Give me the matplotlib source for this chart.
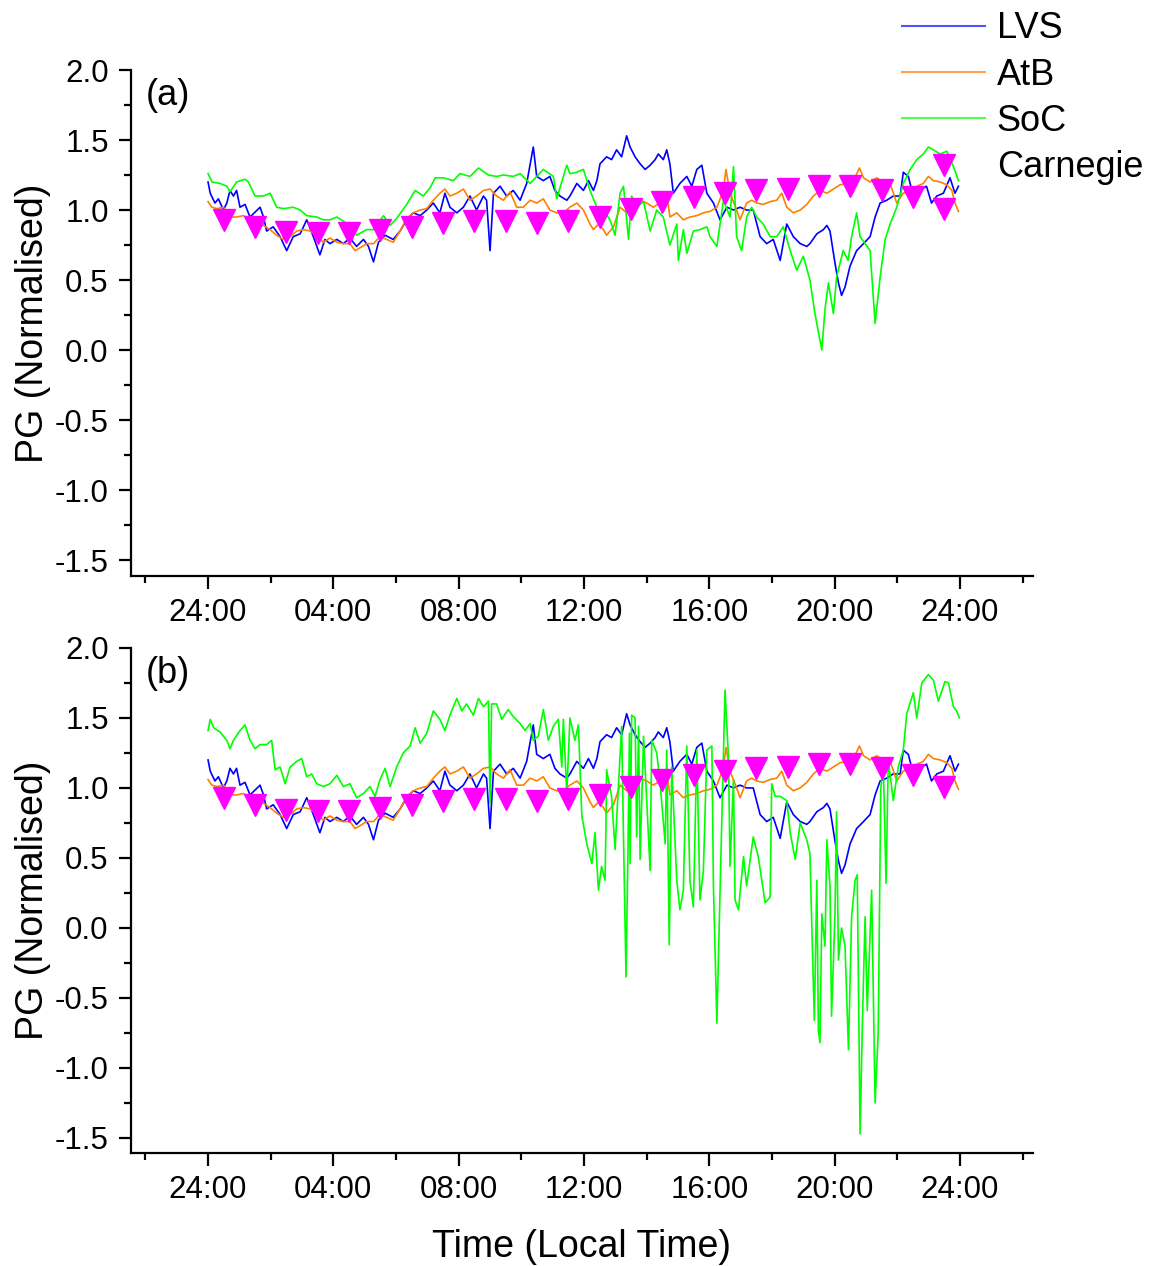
import matplotlib
matplotlib.use('Agg')
import matplotlib.pyplot as plt
from matplotlib.ticker import MultipleLocator, FixedLocator
from matplotlib.lines import Line2D

plt.rcParams['font.family'] = ['Liberation Sans', 'DejaVu Sans']

# ---------------- data (hours after local midnight, normalised PG) ----------------
lvs_t = [0.0, 0.07, 0.22, 0.33, 0.49, 0.60, 0.70, 0.81, 0.91, 1.02,
         1.18, 1.34, 1.66, 1.77, 1.87, 2.08, 2.30, 2.51, 2.72, 2.94,
         3.15, 3.36, 3.57, 3.73, 3.89, 4.11, 4.32, 4.53, 4.74, 4.96,
         5.12, 5.28, 5.44, 5.65, 5.91, 6.13, 6.34, 6.55, 6.77, 6.98,
         7.19, 7.40, 7.56, 7.72, 7.94, 8.15, 8.36, 8.57, 8.79, 8.89,
         9.00, 9.11, 9.32, 9.53, 9.74, 9.96, 10.17, 10.38, 10.49, 10.70,
         10.91, 11.07, 11.23, 11.45,
         11.55, 11.77, 11.98, 12.14, 12.30, 12.41, 12.51, 12.72, 12.88, 13.04,
         13.20, 13.36, 13.47, 13.63, 13.79, 13.95, 14.11, 14.27, 14.37, 14.53,
         14.64, 14.74, 14.85, 15.06, 15.28, 15.44, 15.60, 15.76, 15.92, 16.13,
         16.34, 16.56, 16.77, 16.98, 17.19, 17.40, 17.62, 17.83, 18.04, 18.26,
         18.47, 18.68, 18.90, 19.11, 19.21, 19.43, 19.64, 19.75, 19.85, 20.01,
         20.12, 20.22, 20.33, 20.49, 20.70, 20.92, 21.13, 21.29, 21.45, 21.66,
         21.87, 22.09, 22.19, 22.35, 22.51, 22.72, 22.93, 23.09, 23.26, 23.47,
         23.68, 23.84, 23.95]
lvs_v = [1.20, 1.12, 1.05, 1.08, 1.00, 1.05, 1.14, 1.10, 1.14, 1.02,
         1.04, 0.95, 1.02, 0.95, 0.85, 0.88, 0.81, 0.71, 0.81, 0.83,
         0.93, 0.81, 0.68, 0.79, 0.76, 0.79, 0.76, 0.80, 0.74, 0.79,
         0.74, 0.63, 0.77, 0.82, 0.79, 0.85, 0.93, 0.98, 0.96, 1.00,
         1.05, 0.98, 1.12, 1.02, 0.98, 1.02, 1.10, 1.00, 1.10, 1.07,
         0.71, 1.12, 1.17, 1.10, 1.14, 1.07, 1.19, 1.45, 1.24, 1.21,
         1.24, 1.14, 1.10, 1.07,
         1.10, 1.19, 1.14, 1.21, 1.14, 1.21, 1.33, 1.38, 1.36, 1.43,
         1.38, 1.53, 1.45, 1.38, 1.33, 1.29, 1.32, 1.36, 1.40, 1.36,
         1.43, 1.33, 1.12, 1.19, 1.24, 1.17, 1.29, 1.32, 1.12, 1.05,
         0.93, 1.02, 1.00, 1.02, 1.00, 1.00, 0.81, 0.76, 0.79, 0.64,
         0.90, 0.81, 0.76, 0.74, 0.76, 0.83, 0.86, 0.89, 0.85, 0.62,
         0.48, 0.39, 0.45, 0.60, 0.71, 0.76, 0.81, 0.95, 1.05, 1.07,
         1.10, 1.10, 1.27, 1.24, 1.10, 1.14, 1.17, 1.05, 1.10, 1.12,
         1.23, 1.12, 1.17]

atb_t = [0.0, 0.12, 0.28, 0.49, 0.70, 0.91, 1.13, 1.34, 1.55, 1.77,
         1.98, 2.19, 2.40, 2.62, 2.83, 3.04, 3.26, 3.47, 3.68, 3.89,
         4.11, 4.32, 4.53, 4.69, 4.85, 5.06, 5.28, 5.49, 5.70, 5.91,
         6.13, 6.34, 6.55, 6.77, 6.98, 7.19, 7.40, 7.56, 7.72, 7.94,
         8.15, 8.36, 8.57, 8.79, 9.00, 9.21, 9.43, 9.64, 9.85, 10.06,
         10.28, 10.49, 10.70, 10.91, 11.13, 11.34,
         11.55, 11.77, 11.98, 12.19, 12.30, 12.46, 12.62, 12.72, 12.94, 13.15,
         13.36, 13.58, 13.79, 14.00, 14.21, 14.43, 14.64, 14.74, 14.96, 15.17,
         15.38, 15.60, 15.81, 16.02, 16.24, 16.45, 16.53, 16.66, 16.87, 16.98,
         17.19, 17.35, 17.51, 17.72, 17.94, 18.15, 18.31, 18.47, 18.68, 18.90,
         19.11, 19.32, 19.53, 19.75, 19.96, 20.17, 20.38, 20.60, 20.79, 20.92,
         21.13, 21.34, 21.55, 21.77, 21.98, 22.19, 22.41, 22.62, 22.83, 22.99,
         23.15, 23.37, 23.58, 23.74, 23.84, 23.95]
atb_v = [1.06, 1.02, 1.01, 1.02, 0.95, 0.95, 0.96, 0.93, 0.93, 0.89,
         0.86, 0.82, 0.79, 0.81, 0.85, 0.86, 0.85, 0.81, 0.77, 0.80,
         0.77, 0.76, 0.76, 0.71, 0.73, 0.76, 0.76, 0.81, 0.79, 0.77,
         0.85, 0.94, 0.98, 1.00, 1.01, 1.07, 1.12, 1.15, 1.10, 1.12,
         1.15, 1.07, 1.10, 1.14, 1.15, 1.10, 1.07, 1.13, 1.02, 1.02,
         1.07, 1.05, 1.08, 1.00, 0.98, 0.98,
         1.02, 1.05, 1.00, 0.90, 0.86, 0.90, 0.86, 0.82, 0.88, 1.02,
         0.98, 1.05, 1.07, 1.05, 1.02, 1.05, 1.12, 0.95, 0.98, 0.93,
         0.95, 0.96, 0.98, 0.99, 1.02, 1.14, 1.29, 1.12, 1.00, 0.93,
         1.05, 1.07, 1.05, 1.04, 1.06, 1.07, 1.12, 1.02, 0.98, 1.00,
         1.04, 1.10, 1.14, 1.12, 1.15, 1.18, 1.19, 1.21, 1.30, 1.23,
         1.20, 1.23, 1.20, 1.19, 1.05, 1.12, 1.14, 1.17, 1.19, 1.24,
         1.21, 1.20, 1.18, 1.14, 1.05, 0.99]

soc_a_t = [0.0, 0.13, 0.38, 0.60, 0.70, 0.91, 1.18, 1.29, 1.50, 1.77,
           1.98, 2.19, 2.40, 2.72, 2.94, 3.15, 3.47, 3.68, 3.89, 4.11,
           4.32, 4.53, 4.74, 5.06, 5.28, 5.60, 5.81, 6.02, 6.34, 6.61,
           6.87, 7.09, 7.25, 7.51, 7.83, 8.04, 8.36, 8.63, 8.95, 9.21,
           9.43, 9.74, 9.96, 10.28, 10.70, 11.02, 11.13, 11.34, 11.45,
           11.55, 11.77, 11.98, 12.19, 12.41, 12.62, 12.83, 12.99, 13.15, 13.26,
           13.42, 13.52, 13.68, 13.90, 14.11, 14.32, 14.53, 14.74, 14.96, 15.01,
           15.17, 15.28, 15.49, 15.70, 15.92, 16.02, 16.24, 16.45, 16.66, 16.77,
           16.87, 17.03, 17.19, 17.35, 17.51, 17.72, 17.94, 18.15, 18.36, 18.58,
           18.79, 19.00, 19.21, 19.37, 19.53, 19.59, 19.69, 19.80, 19.96, 20.06,
           20.27, 20.43, 20.54, 20.70, 20.81, 20.97, 21.13, 21.29, 21.45, 21.61,
           21.77, 21.98, 22.19, 22.41, 22.62, 22.83, 22.99, 23.15, 23.37, 23.58,
           23.79, 23.95]
soc_a_v = [1.26, 1.20, 1.19, 1.17, 1.13, 1.20, 1.22, 1.20, 1.10, 1.10,
           1.12, 1.02, 1.01, 1.02, 1.00, 0.96, 0.95, 0.93, 0.93, 0.95,
           0.92, 0.89, 0.82, 0.86, 0.86, 0.96, 0.89, 0.94, 1.04, 1.14,
           1.10, 1.16, 1.23, 1.23, 1.21, 1.26, 1.24, 1.30, 1.25, 1.24,
           1.25, 1.24, 1.26, 1.19, 1.29, 1.24, 1.08, 1.24, 1.32,
           1.26, 1.27, 1.29, 1.14, 1.02, 1.00, 0.93, 0.82, 1.12, 1.17,
           0.79, 1.10, 1.02, 1.06, 0.85, 1.00, 0.95, 0.75, 0.90, 0.64,
           0.86, 0.69, 0.85, 0.86, 0.88, 0.81, 0.74, 1.07, 0.95, 1.31,
           0.81, 0.71, 0.95, 1.02, 0.95, 0.90, 0.81, 0.81, 0.88, 0.71,
           0.57, 0.67, 0.50, 0.26, 0.07, 0.00, 0.29, 0.48, 0.26, 0.52,
           0.71, 0.64, 0.81, 0.98, 0.81, 0.76, 0.71, 0.19, 0.52, 0.79,
           0.90, 1.02, 1.19, 1.29, 1.36, 1.40, 1.45, 1.43, 1.40, 1.42,
           1.31, 1.21]

soc_b_t = [0.0, 0.07, 0.18, 0.38, 0.60, 0.70, 0.81, 1.02, 1.18, 1.34,
           1.50, 1.66, 1.87, 2.03, 2.14, 2.30, 2.46, 2.62, 2.83, 2.99,
           3.15, 3.31, 3.47, 3.68, 3.89, 4.11, 4.32, 4.53, 4.74, 4.96,
           5.17, 5.33, 5.49, 5.65, 5.81, 6.02, 6.23, 6.45, 6.61, 6.77,
           6.98, 7.19, 7.40, 7.56, 7.72, 7.94, 8.10, 8.25, 8.47, 8.63,
           8.79, 8.95, 9.00, 9.05, 9.21, 9.37, 9.58, 9.74, 9.96, 10.12,
           10.28, 10.38, 10.54, 10.70, 10.86, 11.02, 11.18, 11.29, 11.34, 11.45,
           11.55, 11.71, 11.82, 11.93, 12.09, 12.25, 12.35, 12.46, 12.56, 12.67,
           12.70, 12.72, 12.88, 12.99, 13.20, 13.26, 13.34, 13.40, 13.45, 13.47,
           13.52, 13.63, 13.68, 13.74, 13.79, 13.90, 14.11, 14.16, 14.32, 14.43,
           14.59, 14.64, 14.72, 14.80, 14.96, 15.06, 15.17, 15.28, 15.38, 15.49,
           15.60, 15.70, 15.81, 15.92, 16.08, 16.13, 16.24, 16.34, 16.50, 16.61,
           16.66, 16.77, 16.82, 16.93, 17.09, 17.19, 17.40, 17.56, 17.78, 17.94,
           17.99, 18.10, 18.26, 18.47, 18.58, 18.74, 18.90, 19.11, 19.21, 19.35,
           19.43, 19.48, 19.53, 19.59, 19.69, 19.75, 19.85, 19.90, 20.01, 20.06,
           20.12, 20.22, 20.33, 20.44, 20.54, 20.65, 20.72, 20.81, 20.89, 20.97,
           21.04, 21.18, 21.29, 21.39, 21.47, 21.55, 21.64, 21.71, 21.87, 22.03,
           22.19, 22.30, 22.51, 22.62, 22.78, 22.99, 23.15, 23.31, 23.52, 23.63,
           23.79, 23.89, 23.98]
soc_b_v = [1.41, 1.49, 1.43, 1.40, 1.34, 1.28, 1.34, 1.41, 1.45, 1.34,
           1.28, 1.31, 1.31, 1.34, 1.13, 1.15, 1.03, 1.15, 1.19, 1.21,
           1.08, 1.10, 1.03, 1.01, 1.03, 1.09, 1.01, 1.03, 0.93, 0.96,
           1.01, 0.94, 1.06, 1.14, 1.01, 1.15, 1.25, 1.30, 1.43, 1.32,
           1.39, 1.55, 1.49, 1.41, 1.52, 1.64, 1.55, 1.60, 1.52, 1.64,
           1.58, 1.62, 0.89, 1.60, 1.60, 1.49, 1.56, 1.51, 1.46, 1.41,
           1.46, 1.34, 1.37, 1.56, 1.34, 1.44, 1.49, 1.15, 1.49, 0.96,
           1.50, 1.34, 1.45, 0.80, 0.60, 0.46, 0.68, 0.27, 0.44, 0.34,
           0.72, 1.13, 0.94, 0.56, 1.44, 0.65, -0.35, 0.50, 1.39, 0.46,
           1.52, 1.50, 0.65, 1.44, 0.49, 1.37, 0.41, 1.34, 1.25, 1.03,
           0.60, 1.27, -0.12, 1.15, 0.34, 0.13, 0.27, 1.30, 0.34, 0.15,
           1.27, 0.20, 0.41, 1.27, 1.30, 0.30, -0.68, 0.25, 1.70, 1.22,
           0.44, 1.06, 0.20, 0.13, 0.51, 0.30, 0.65, 0.51, 0.18, 0.22,
           1.03, 0.94, 0.94, 0.91, 0.68, 0.49, 0.75, 0.63, 0.53, -0.66,
           0.34, -0.73, -0.82, 0.10, -0.13, 0.63, 0.30, -0.63, 0.10, 0.83,
           -0.23, 0.00, -0.13, -0.87, 0.08, 0.34, 0.38, -1.47, -0.63, 0.08,
           -0.59, 0.27, -1.25, -0.75, 0.99, 1.18, 0.32, 1.20, 0.91, 1.15,
           1.27, 1.53, 1.68, 1.50, 1.75, 1.81, 1.77, 1.62, 1.76, 1.75,
           1.58, 1.55, 1.50]

carnegie_t = [0.5, 1.5, 2.5, 3.5, 4.5, 5.5, 6.5, 7.5, 8.5, 9.5, 10.5, 11.5,
              12.5, 13.5, 14.5, 15.5, 16.5, 17.5, 18.5, 19.5, 20.5, 21.5, 22.5, 23.5]
carnegie_v = [0.93, 0.88, 0.84, 0.835, 0.835, 0.855, 0.88, 0.91, 0.92, 0.92, 0.91, 0.92,
              0.95, 1.01, 1.06, 1.09, 1.12, 1.14, 1.15, 1.17, 1.17, 1.14, 1.09, 1.01]
carnegie_extra_t = [23.5]
carnegie_extra_v = [1.32]

xtick_pos = [0, 4, 8, 12, 16, 20, 24]
xtick_labels = ['24:00', '04:00', '08:00', '12:00', '16:00', '20:00', '24:00']

C_LVS = '#0000FF'
C_ATB = '#FF8000'
C_SOC = '#00FF00'
C_CAR = '#FF00FF'

fig = plt.figure(figsize=(11.59, 12.66), dpi=100)
ax_a = fig.add_axes([0.1130, 0.5450, 0.7783, 0.3997])
ax_b = fig.add_axes([0.1130, 0.0893, 0.7783, 0.3989])


def style(ax, ylo):
    ax.set_xlim(-2.46, 26.33)
    ax.set_ylim(ylo, 2.0)
    for s in ['top', 'right']:
        ax.spines[s].set_visible(False)
    for s in ['left', 'bottom']:
        ax.spines[s].set_linewidth(1.6)
    ax.xaxis.set_major_locator(FixedLocator(xtick_pos))
    ax.set_xticklabels(xtick_labels)
    ax.xaxis.set_minor_locator(FixedLocator([-2, 2, 6, 10, 14, 18, 22, 26]))
    ax.yaxis.set_major_locator(MultipleLocator(0.5))
    ax.yaxis.set_minor_locator(MultipleLocator(0.25))
    ax.yaxis.set_major_formatter(matplotlib.ticker.FormatStrFormatter('%.1f'))
    ax.tick_params(which='major', direction='out', length=9, width=1.6,
                   labelsize=22.5, pad=7)
    ax.tick_params(which='minor', direction='out', length=5, width=1.6)
    ax.set_ylabel('PG (Normalised)', fontsize=27)
    ax.yaxis.set_label_coords(-0.089, 0.5)


for ax, soc_t, soc_v in [(ax_a, soc_a_t, soc_a_v), (ax_b, soc_b_t, soc_b_v)]:
    ax.plot(lvs_t, lvs_v, color=C_LVS, lw=1.2, label='LVS')
    ax.plot(atb_t, atb_v, color=C_ATB, lw=1.2, label='AtB')
    ax.plot(soc_t, soc_v, color=C_SOC, lw=1.2, label='SoC')
    ax.plot(carnegie_t, carnegie_v, linestyle='none', marker='v', ms=16,
            color=C_CAR, mec=C_CAR, zorder=5)

ax_a.plot(carnegie_extra_t, carnegie_extra_v, linestyle='none', marker='v', ms=16,
          color=C_CAR, mec=C_CAR, zorder=5)

style(ax_a, -1.614)
style(ax_b, -1.607)

ax_a.text(0.016, 0.95, '(a)', transform=ax_a.transAxes, fontsize=26, va='center', ha='left')
ax_b.text(0.016, 0.95, '(b)', transform=ax_b.transAxes, fontsize=26, va='center', ha='left')

ax_b.set_xlabel('Time (Local Time)', fontsize=27)
ax_b.xaxis.set_label_coords(0.5, -0.151)

handles = [Line2D([], [], color='#5050FF', lw=1.5),
           Line2D([], [], color='#FFA050', lw=1.5),
           Line2D([], [], color='#50FF50', lw=1.5),
           Line2D([], [], linestyle='none')]
fig.legend(handles, ['LVS', 'AtB', 'SoC', 'Carnegie'], loc='upper left',
           bbox_to_anchor=(0.778, 0.991), frameon=False, fontsize=26,
           handlelength=2.3, handletextpad=0.33, labelspacing=0.31,
           borderpad=0, borderaxespad=0)

fig.savefig('out.png', dpi=100)
